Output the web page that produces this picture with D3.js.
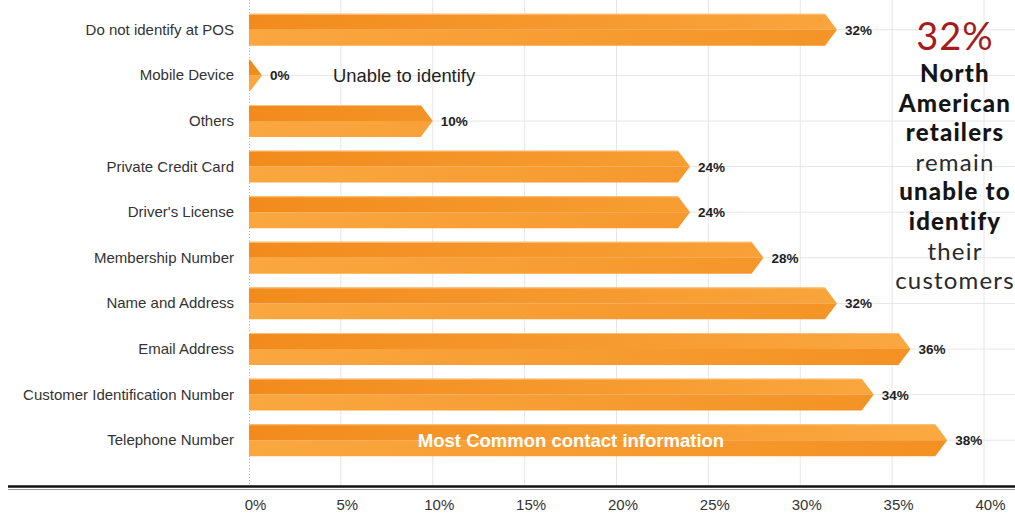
<!DOCTYPE html>
<html>
<head>
<meta charset="utf-8">
<script src="https://cdn.jsdelivr.net/npm/d3@7"></script>
<style>
  html, body { margin: 0; padding: 0; background: #fff; }
  svg { display: block; }
</style>
</head>
<body>
<svg id="chart" width="1015" height="515"></svg>
<script>
// Contact information captured at the point of sale (% of retailers)
const categories = [
  "Do not identify at POS",
  "Mobile Device",
  "Others",
  "Private Credit Card",
  "Driver's License",
  "Membership Number",
  "Name and Address",
  "Email Address",
  "Customer Identification Number",
  "Telephone Number"
];
const values = [32, 0, 10, 24, 24, 28, 32, 36, 34, 38];
const tickValues = [0, 5, 10, 15, 20, 25, 30, 35, 40];

const calloutHeadline = "32%";
const calloutLines = [
  { text: "North", bold: true },
  { text: "American", bold: true },
  { text: "retailers", bold: true },
  { text: "remain", bold: false },
  { text: "unable to", bold: true },
  { text: "identify", bold: true },
  { text: "their", bold: false },
  { text: "customers", bold: false }
];

const svg = d3.select("#chart");
const W = 1015, H = 515;
const sans = "Liberation Sans, Arial, Helvetica, sans-serif";

const x = d3.scaleLinear().domain([0, 40]).range([249, 984]);
const y = d3.scaleBand().domain(categories).range([7, 463])
  .paddingInner(0.3).paddingOuter(0.15);

// gradients for the two halves of each arrow bar
const defs = svg.append("defs");
const gTop = defs.append("linearGradient").attr("id", "gTop")
  .attr("gradientUnits", "userSpaceOnUse").attr("x1", 249).attr("x2", 984).attr("y1", 0).attr("y2", 0);
gTop.append("stop").attr("offset", "0%").attr("stop-color", "#f28b1c");
gTop.append("stop").attr("offset", "100%").attr("stop-color", "#fbab44");
const gBot = defs.append("linearGradient").attr("id", "gBot")
  .attr("gradientUnits", "userSpaceOnUse").attr("x1", 249).attr("x2", 984).attr("y1", 0).attr("y2", 0);
gBot.append("stop").attr("offset", "0%").attr("stop-color", "#faa740");
gBot.append("stop").attr("offset", "100%").attr("stop-color", "#f38f20");

// grid
const grid = svg.append("g");
grid.selectAll("line.v").data(tickValues.slice(1)).join("line")
  .attr("x1", d => x(d)).attr("x2", d => x(d))
  .attr("y1", 0).attr("y2", 485)
  .attr("stroke", "#e6e6e6").attr("stroke-width", 1);
grid.selectAll("line.h").data(categories).join("line")
  .attr("x1", x(0)).attr("x2", W)
  .attr("y1", d => y(d) + y.bandwidth() / 2).attr("y2", d => y(d) + y.bandwidth() / 2)
  .attr("stroke", "#e6e6e6").attr("stroke-width", 1);

// dotted baseline at 0%
svg.append("line")
  .attr("x1", x(0) + 0.5).attr("x2", x(0) + 0.5).attr("y1", 0).attr("y2", 485)
  .attr("stroke", "#b9b9b9").attr("stroke-dasharray", "1,2");

// arrow bars
const tip = 12;
const bars = svg.append("g");
categories.forEach((c, i) => {
  const v = values[i];
  const x0 = x(0);
  const end = Math.max(x(v), x0 + 13);
  const sh = Math.max(end - tip, x0 + 1);
  const t = y(c), b = y(c) + y.bandwidth(), m = (t + b) / 2;
  const g = bars.append("g");
  g.append("path")
    .attr("d", `M${x0},${t}L${sh},${t}L${end},${m}L${x0},${m}Z`)
    .attr("fill", "url(#gTop)");
  g.append("path")
    .attr("d", `M${x0},${m}L${end},${m}L${sh},${b}L${x0},${b}Z`)
    .attr("fill", "url(#gBot)");
  g.append("path")
    .attr("d", `M${x0},${t + 0.5}L${sh},${t + 0.5}`)
    .attr("stroke", "#fcc27a").attr("stroke-width", 1);
  // value label
  svg.append("text")
    .attr("x", end + 8).attr("y", m + 5)
    .attr("font-family", sans)
    .attr("font-size", 13.5).attr("font-weight", "bold").attr("fill", "#222")
    .text(v + "%");
});

// category labels
svg.append("g").selectAll("text").data(categories).join("text")
  .attr("x", 234).attr("y", d => y(d) + y.bandwidth() / 2 + 5)
  .attr("text-anchor", "end")
  .attr("font-family", sans)
  .attr("font-size", 15).attr("fill", "#333")
  .text(d => d);

// in-chart notes
svg.append("text")
  .attr("x", 333).attr("y", y("Mobile Device") + y.bandwidth() / 2 + 7)
  .attr("font-family", sans)
  .attr("font-size", 18.4).attr("fill", "#222")
  .text("Unable to identify");
svg.append("text")
  .attr("x", 571).attr("y", y("Telephone Number") + y.bandwidth() / 2 + 7)
  .attr("text-anchor", "middle")
  .attr("font-family", sans)
  .attr("font-size", 18.5).attr("font-weight", "bold").attr("fill", "#fff")
  .text("Most Common contact information");

// x axis
svg.append("line").attr("x1", 8).attr("x2", W).attr("y1", 486.5).attr("y2", 486.5)
  .attr("stroke", "#111").attr("stroke-width", 2.5);
svg.append("line").attr("x1", 8).attr("x2", W).attr("y1", 489.5).attr("y2", 489.5)
  .attr("stroke", "#999").attr("stroke-width", 1);
const axis = d3.axisBottom(x).tickValues(tickValues).tickSize(0).tickFormat(d => d + "%");
const ax = svg.append("g").attr("transform", "translate(6,496)").call(axis);
ax.select(".domain").remove();
ax.selectAll("text")
  .attr("font-family", sans)
  .attr("font-size", 15).attr("fill", "#333");

// callout
const cx = 955;
svg.append("text")
  .attr("x", cx).attr("y", 50).attr("text-anchor", "middle")
  .attr("font-family", "Lato, sans-serif").attr("font-size", 38)
  .attr("font-weight", "400").attr("letter-spacing", 1)
  .attr("fill", "#a51c1c").text(calloutHeadline);
svg.append("g").selectAll("text").data(calloutLines).join("text")
  .attr("x", cx).attr("y", (d, i) => 82 + i * 29.6)
  .attr("text-anchor", "middle")
  .attr("font-family", "Lato, sans-serif").attr("font-size", 24)
  .attr("letter-spacing", 1.2)
  .attr("font-weight", d => d.bold ? "900" : "400")
  .attr("fill", d => d.bold ? "#151515" : "#2a2a2a")
  .text(d => d.text);
</script>
</body>
</html>
